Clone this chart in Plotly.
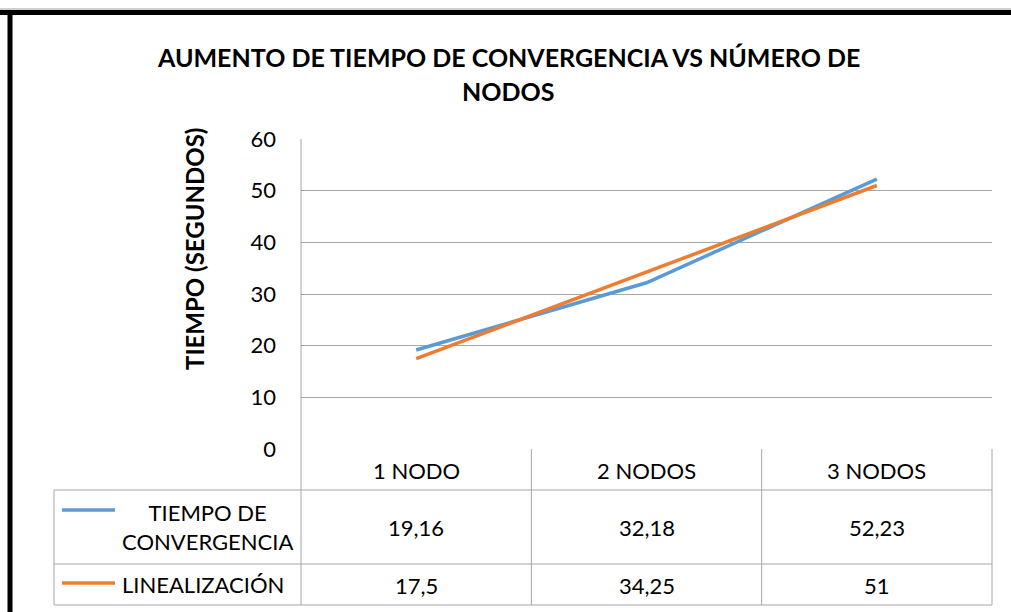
import plotly.graph_objects as go

# Chart data
categories = ["1 NODO", "2 NODOS", "3 NODOS"]
tiempo_convergencia = [19.16, 32.18, 52.23]
linealizacion = [17.5, 34.25, 51]
series_names = ["TIEMPO DE<br>CONVERGENCIA", "LINEALIZACIÓN"]
y_ticks = [0, 10, 20, 30, 40, 50, 60]

W, H = 1011, 612
# plot area in pixels
L, R, T, B = 301, 992, 139, 449
FONT = "Lato"
GRID = "#A6A6A6"
BLUE = "#5B9BD5"
ORANGE = "#ED7D31"
BODY = 22


def px(x):
    return (x - L) / (R - L)


def py(y):
    return (B - y) / (B - T)


def fmt(v):
    s = ("%g" % v)
    return s.replace(".", ",")


xs = list(range(len(categories)))

fig = go.Figure()
fig.add_trace(go.Scatter(x=xs, y=tiempo_convergencia, mode="lines",
                         line=dict(color=BLUE, width=3.5), name="TIEMPO DE CONVERGENCIA"))
fig.add_trace(go.Scatter(x=xs, y=linealizacion, mode="lines",
                         line=dict(color=ORANGE, width=3.5), name="LINEALIZACIÓN"))

shapes = []


def hline(y, x0, x1, color=GRID, width=1):
    shapes.append(dict(type="line", xref="paper", yref="paper",
                       x0=px(x0), x1=px(x1), y0=py(y), y1=py(y),
                       line=dict(color=color, width=width)))


def vline(x, y0, y1, color=GRID, width=1):
    shapes.append(dict(type="line", xref="paper", yref="paper",
                       x0=px(x), x1=px(x), y0=py(y0), y1=py(y1),
                       line=dict(color=color, width=width)))


# data table grid
col_x = [L + (R - L) * i / 3 for i in range(4)]
hline(490, 54, R)
hline(564, 54, R)
hline(605, 54, R)
vline(54, 490, 605)
vline(L, T, 605)
for cx in col_x[1:]:
    vline(cx, 449, 605)

# legend keys inside the table
hline(510, 62, 115, color=BLUE, width=3.5)
hline(583, 62, 115, color=ORANGE, width=3.5)

# outer frame
hline(9, 0, W, color="#A0A0A0", width=1)
shapes.append(dict(type="line", xref="paper", yref="paper",
                   x0=px(0), x1=px(W + 5), y0=py(12.5), y1=py(12.5),
                   line=dict(color="black", width=5)))
shapes.append(dict(type="line", xref="paper", yref="paper",
                   x0=px(10), x1=px(10), y0=py(10), y1=py(H + 5),
                   line=dict(color="black", width=5)))

annotations = []


def text(x, y, s, size=BODY, bold=False, angle=0):
    annotations.append(dict(xref="paper", yref="paper", x=px(x), y=py(y),
                            text=("<b>%s</b>" % s) if bold else s,
                            showarrow=False, textangle=angle,
                            xanchor="center", yanchor="middle",
                            font=dict(family=FONT, size=size, color="black")))


centers = [(col_x[i] + col_x[i + 1]) / 2 for i in range(3)]
for cx, cat in zip(centers, categories):
    text(cx, 470, cat)
for cx, v in zip(centers, tiempo_convergencia):
    text(cx, 527, fmt(v))
for cx, v in zip(centers, linealizacion):
    text(cx, 585, fmt(v))

text(207, 527, series_names[0])
text(203, 584, series_names[1])

# titles
text(508, 57, "AUMENTO DE TIEMPO DE CONVERGENCIA VS NÚMERO DE", size=25, bold=True)
text(508, 91, "NODOS", size=25, bold=True)
text(194, 249, "TIEMPO (SEGUNDOS)", size=24, bold=True, angle=-90)

fig.update_layout(
    width=W, height=H,
    margin=dict(l=L, r=W - R, t=T, b=H - B),
    paper_bgcolor="white", plot_bgcolor="white",
    showlegend=False,
    shapes=shapes, annotations=annotations,
    xaxis=dict(range=[-0.5, 2.5], showgrid=False, zeroline=False,
               showticklabels=False, showline=False, fixedrange=True),
    yaxis=dict(range=[0, 60], tickvals=y_ticks, showgrid=True, gridcolor=GRID,
               gridwidth=1, zeroline=False, showline=False,
               ticks="", ticklabelstandoff=24,
               tickfont=dict(family=FONT, size=BODY, color="black")),
)

fig.write_html("out.html")
